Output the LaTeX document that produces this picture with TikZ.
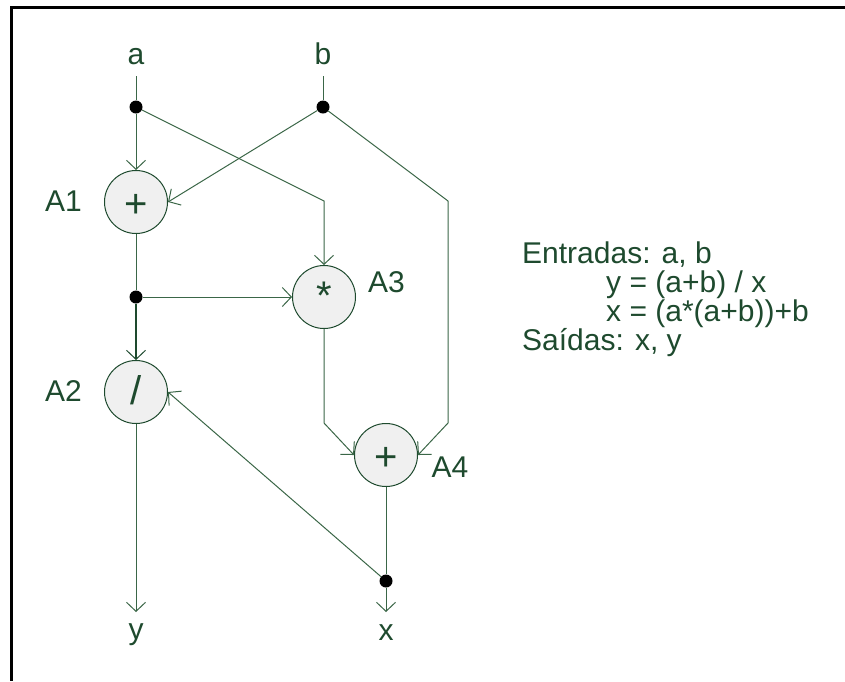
\documentclass[tikz,border=0pt]{standalone}
\usepackage{fontspec}
\setmainfont{Liberation Sans}
\usetikzlibrary{arrows.meta}

\definecolor{ink}{HTML}{1E4A2E}
\definecolor{wirecol}{HTML}{3A6647}
\definecolor{opfill}{HTML}{F0F0F0}

\begin{document}
\begin{tikzpicture}[x=1pt,y=-1pt,
  wire/.style={draw=wirecol, line width=1pt},
  flow/.style={wire, -{Straight Barb[length=9pt,width=19pt,line width=1pt]}},
  op/.style={circle, draw=ink, fill=opfill, line width=1pt, minimum size=63pt, inner sep=0pt},
  sym/.style={font=\fontsize{40}{48}\selectfont, text=ink, anchor=base, inner sep=0pt},
  lbl/.style={font=\fontsize{30}{36}\selectfont, text=ink, inner sep=0pt},
  joint/.style={circle, fill=black, minimum size=13pt, inner sep=0pt},
]
\useasboundingbox (0,0) rectangle (845,681);

% frame (top and left edges only)
\draw[line width=3.2pt] (845,7.5) -- (11.5,7.5) -- (11.5,681);

% operation nodes
\node[op] (A1) at (136,202) {};
\node[op] (A2) at (136,392) {};
\node[op] (A3) at (324,297) {};
\node[op] (A4) at (386,455) {};
\node[sym] (s1) at (136,217) {+};
\node[sym] (s2) at (136,404.5) {/};
\node[sym] (s3) at (324,309) {*};
\node[sym] (s4) at (386,470.5) {+};

% operation names
\node[lbl, anchor=base west] (n1) at (45,211.5) {A1};
\node[lbl, anchor=base west] (n2) at (45,401.5) {A2};
\node[lbl, anchor=base west] (n3) at (368,292.5) {A3};
\node[lbl, anchor=base west] (n4) at (431.5,477.5) {A4};

% inputs and outputs
\node[lbl, anchor=base] (la) at (136,64) {a};
\node[lbl, anchor=base] (lb) at (323,64) {b};
\node[lbl, anchor=base] (ly) at (136,639) {y};
\node[lbl, anchor=base] (lx) at (386,640) {x};

% line ends and bends
\coordinate (ta) at (136,76);
\coordinate (tb) at (323,76);
\coordinate (ty) at (136,612);
\coordinate (tx) at (386,612);
\coordinate (ka) at (324,201);
\coordinate (kb1) at (448,201);
\coordinate (kb2) at (448,423);
\coordinate (kc) at (324,423);

% branch points
\node[joint] (ja) at (136,107) {};
\node[joint] (jb) at (323,107) {};
\node[joint] (jc) at (136,297) {};
\node[joint] (jx) at (386,581) {};

% connectors
\draw[wire] (ta) -- (ja);
\draw[wire] (tb) -- (jb);
\draw[flow] (ja) -- (A1);
\draw[flow] (jb) -- (A1.east);
\draw[flow] (ja) -- (ka) -- (A3.north);
\draw[flow] (jb) -- (kb1) -- (kb2) -- (A4.east);
\draw[flow] (A3) -- (kc) -- (A4.west);
\draw[wire] (A1) -- (jc);
\draw[flow, draw=ink, line width=1.3pt] (jc) -- (A2);
\draw[flow] (jc) -- (A3.west);
\draw[wire] (A4) -- (jx);
\draw[flow] (jx) -- (tx);
\draw[flow] (jx) -- (A2.east);
\draw[flow] (A2) -- (ty);

% description
\node[lbl, anchor=base west] (t1) at (522,263) {Entradas: a, b};
\node[lbl, anchor=base west] (t2) at (606,292) {y = (a+b) / x};
\node[lbl, anchor=base west] (t3) at (606,321) {x = (a*(a+b))+b};
\node[lbl, anchor=base west] (t4) at (522,350) {Saídas: x, y};
\end{tikzpicture}
\end{document}
